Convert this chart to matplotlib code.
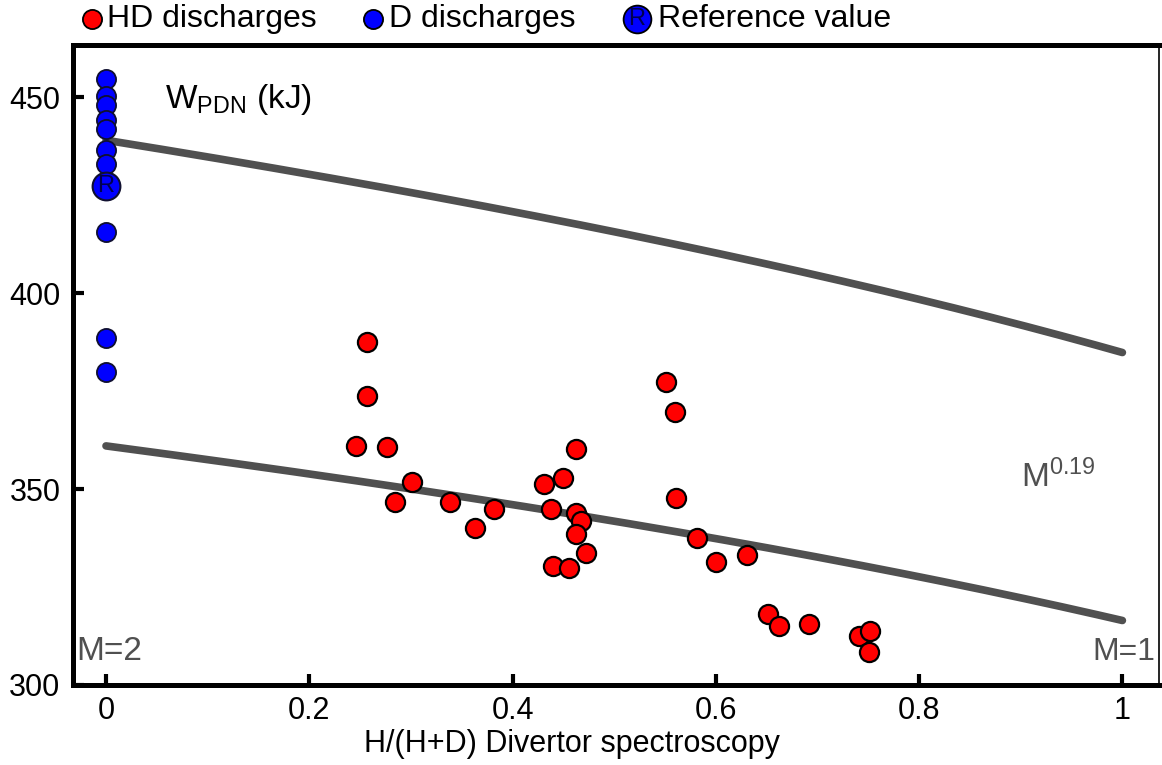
import numpy as np
import matplotlib
matplotlib.use("Agg")
import matplotlib.pyplot as plt

plt.rcParams['font.family'] = ['Liberation Sans', 'DejaVu Sans']
plt.rcParams['mathtext.fontset'] = 'custom'
plt.rcParams['mathtext.rm'] = 'Liberation Sans'
plt.rcParams['mathtext.it'] = 'Liberation Sans:italic'

# --- data ---
hd_x = [0.257, 0.257, 0.246, 0.276, 0.301, 0.284, 0.338, 0.382, 0.363,
        0.551, 0.560, 0.462, 0.431, 0.450, 0.438, 0.462, 0.467, 0.462,
        0.472, 0.440, 0.456, 0.561, 0.581, 0.600, 0.631, 0.651, 0.662,
        0.692, 0.741, 0.752, 0.751]
hd_y = [387.5, 373.7, 361.1, 360.8, 351.7, 346.8, 346.8, 344.9, 340.0,
        377.4, 369.7, 360.3, 351.4, 352.9, 344.8, 343.8, 341.9, 338.4,
        333.7, 330.3, 329.9, 347.7, 337.6, 331.5, 333.2, 318.2, 315.1,
        315.6, 312.4, 313.8, 308.3]

d_x = [0.0] * 10
d_y = [454.7, 450.4, 447.9, 444.1, 441.9, 436.4, 433.0, 415.6, 388.5, 379.8]

ref_x = 0.0
ref_y = 427.4

# scaling curves W ~ M^0.19, anchored at M=2 (pure D)
curve_w0 = [439.0, 361.0]
curve_exp = 0.19

xticks = [0, 0.2, 0.4, 0.6, 0.8, 1]
xtick_labels = ['0', '0.2', '0.4', '0.6', '0.8', '1']
yticks = [300, 350, 400, 450]

grey = '#505050'

fig = plt.figure(figsize=(11.62, 7.65), dpi=100)
ax = fig.add_axes([0.0628, 0.1046, 0.9346, 0.8366])

f = np.linspace(0, 1, 200)
for w0 in curve_w0:
    ax.plot(f, w0 * ((2 - f) / 2) ** curve_exp, color=grey, lw=5.5,
            solid_capstyle='round', zorder=2)

ax.scatter(hd_x, hd_y, s=190, c='#ff0000', edgecolors='black', linewidths=1.6, zorder=3)
ax.scatter(d_x, d_y, s=190, c='#0000ff', edgecolors='#101030', linewidths=1.3, zorder=3)
ax.scatter([ref_x], [ref_y], s=400, c='#0000ff', edgecolors='#101030', linewidths=1.5, zorder=4)
ax.text(ref_x, ref_y, 'R', ha='center', va='center', fontsize=17, color='#000050', zorder=5)

ax.set_xlim(-0.0325, 1.036)
ax.set_ylim(300, 463.3)
ax.set_xticks(xticks)
ax.set_xticklabels(xtick_labels)
ax.set_yticks(yticks)
ax.tick_params(direction='in', length=8, width=3, labelsize=22)
ax.tick_params(axis='y', pad=9)
ax.tick_params(axis='x', pad=8)
for side in ['left', 'bottom', 'top']:
    ax.spines[side].set_linewidth(3.6)
ax.spines['right'].set_linewidth(1.2)

ax.set_xlabel('H/(H+D) Divertor spectroscopy', fontsize=22, labelpad=0)
ax.xaxis.set_label_coords(0.459, -0.069)

ax.text(0.058, 449.5, r'W$_{\mathrm{PDN}}$ (kJ)', fontsize=24, va='center')
ax.text(0.900, 353, r'M$^{0.19}$', fontsize=24, color=grey, va='center')
ax.text(-0.029, 308.5, 'M=2', fontsize=24, color=grey, va='center')
ax.text(1.032, 308.5, 'M=1', fontsize=23, color=grey, va='center', ha='right')

# legend row above the axes
ly = 0.975
items = [(0.079, 0.013, 'HD discharges', '#ff0000', 190, None),
         (0.321, 0.014, 'D discharges', '#0000ff', 190, None),
         (0.548, 0.018, 'Reference value', '#0000ff', 400, 'R')]
for lx, gap, label, col, size, inner in items:
    fig.add_artist(plt.Line2D([lx], [ly], marker='o', ls='none',
                              markersize=np.sqrt(size), markerfacecolor=col,
                              markeredgecolor='black', markeredgewidth=1.3,
                              transform=fig.transFigure))
    if inner:
        fig.text(lx, ly, inner, ha='center', va='center', fontsize=17, color='#000050')
    fig.text(lx + gap, ly, label, ha='left', va='center', fontsize=23)

fig.savefig('out.png', dpi=100)
